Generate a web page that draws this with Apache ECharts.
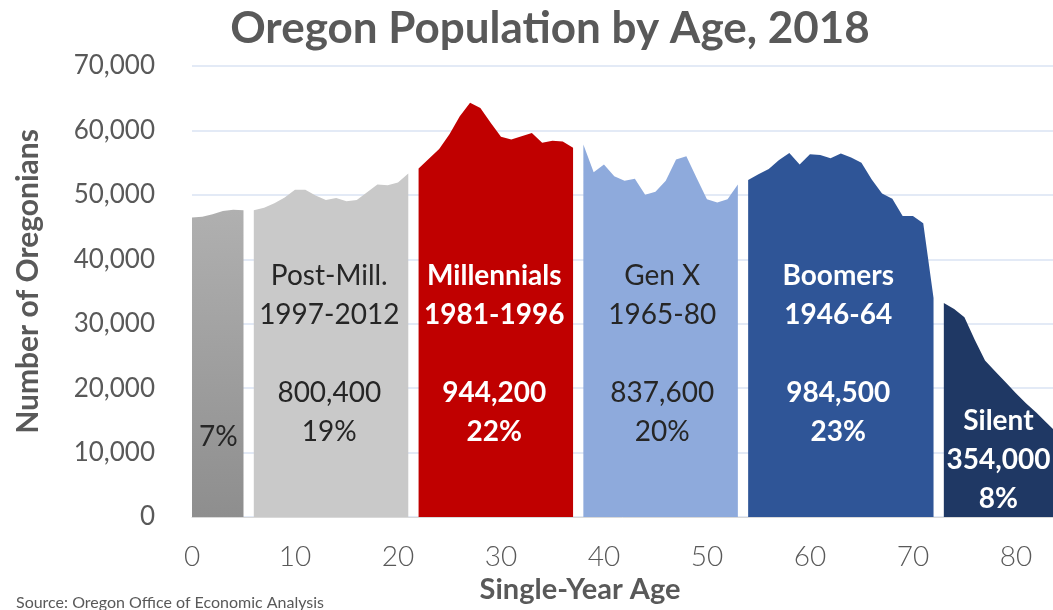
<!DOCTYPE html>
<html>
<head>
<meta charset="utf-8">
<script src="https://cdn.jsdelivr.net/npm/echarts@6/dist/echarts.min.js"></script>
<style>
    html, body { margin: 0; padding: 0; background: #fff; }
    #chart { width: 1053px; height: 610px; }
</style>
</head>
<body>
<div id="chart"></div>
<script>
// population by single year of age, one array per generation (first age + values)
var genAlphaStart = 0;
var genAlpha = [46500, 46600, 47000, 47500, 47700, 47600];
var postMillStart = 6;
var postMill = [47600, 48000, 48700, 49600, 50800, 50800, 49900, 49200, 49500, 49000, 49200, 50400, 51600, 51500, 51900, 53300];
var millStart = 22;
var millennials = [54100, 55600, 57100, 59400, 62200, 64300, 63500, 61200, 59000, 58600, 59100, 59600, 58100, 58400, 58300, 57300];
var genXStart = 38;
var genX = [57800, 53500, 54700, 52900, 52200, 52500, 50000, 50500, 52200, 55500, 56000, 52600, 49300, 48800, 49300, 51600];
var boomStart = 54;
var boomers = [52300, 53200, 54000, 55400, 56500, 54700, 56300, 56200, 55700, 56400, 55800, 55000, 52400, 50200, 49400, 46700, 46700, 45600, 34000];
var silentStart = 73;
var silent = [33200, 32300, 31000, 27500, 24300, 22600, 20900, 19200, 17600, 16200, 14600, 13000];

var ageTicks = [0, 10, 20, 30, 40, 50, 60, 70, 80];
var popTicks = [0, 10000, 20000, 30000, 40000, 50000, 60000, 70000];

var FONT = 'Lato';
var TXT = '#595959';

var toPairs = function (iStart, arrVals) {
    return arrVals.map(function (v, i) { return [iStart + i, v]; });
};

var areaSeries = function (strName, iStart, arrVals, color) {
    return {
        name: strName,
        type: 'line',
        data: toPairs(iStart, arrVals),
        symbol: 'none',
        lineStyle: { width: 0 },
        areaStyle: { color: color, opacity: 1 },
        silent: true,
        z: 2
    };
};

// text blocks sitting on the areas
var note = function (strText, x, y, bWhite) {
    return {
        value: [x, y],
        label: {
            formatter: strText,
            color: bWhite ? '#ffffff' : '#262626',
            fontWeight: bWhite ? 'bold' : 'normal'
        }
    };
};

var chart = echarts.init(document.getElementById('chart'));

var option = {
    animation: false,
    textStyle: { fontFamily: FONT },
    title: [
        {
            text: 'Oregon Population by Age, 2018',
            left: 545, top: 2, textAlign: 'center',
            textStyle: { fontFamily: FONT, fontSize: 44, fontWeight: 'bold', color: TXT }
        },
        {
            text: 'Single-Year Age',
            left: 575, top: 570, textAlign: 'center',
            textStyle: { fontFamily: FONT, fontSize: 29, fontWeight: 'bold', color: TXT }
        },
        {
            text: 'Source: Oregon Office of Economic Analysis',
            left: 11, top: 590,
            textStyle: { fontFamily: FONT, fontSize: 16, fontWeight: 'normal', color: TXT }
        }
    ],
    grid: { left: 192, top: 66, right: 0, bottom: 93 },
    xAxis: {
        type: 'value',
        min: 0, max: 83.6, interval: 10,
        axisLine: { show: true, lineStyle: { color: '#d9d9d9', width: 1 } },
        axisTick: { show: false },
        splitLine: { show: false },
        axisLabel: {
            margin: 26,
            fontFamily: FONT, fontWeight: 300, fontSize: 28, color: TXT,
            showMaxLabel: false,
            formatter: function (v) { return ageTicks.indexOf(v) >= 0 ? String(v) : ''; }
        }
    },
    yAxis: {
        type: 'value',
        min: popTicks[0], max: popTicks[popTicks.length - 1], interval: 10000,
        name: 'Number of Oregonians',
        nameLocation: 'middle',
        nameGap: 149,
        nameTextStyle: { fontFamily: FONT, fontSize: 30, fontWeight: 'bold', color: TXT, padding: [0, 0, 0, 20] },
        axisLine: { show: false },
        axisTick: { show: false },
        splitLine: { lineStyle: { color: '#dae3f3', width: 1.5 } },
        axisLabel: {
            margin: 37,
            fontFamily: FONT, fontSize: 26, color: TXT,
            formatter: function (v) { return v.toLocaleString('en-US'); }
        }
    },
    series: [
        areaSeries('Gen Alpha', genAlphaStart, genAlpha,
            new echarts.graphic.LinearGradient(0, 0, 0, 1, [
                { offset: 0, color: '#b0b0b0' },
                { offset: 1, color: '#8e8e8e' }
            ])),
        areaSeries('Post-Mill.', postMillStart, postMill, '#c9c9c9'),
        areaSeries('Millennials', millStart, millennials, '#c00000'),
        areaSeries('Gen X', genXStart, genX, '#8eaadc'),
        areaSeries('Boomers', boomStart, boomers, '#2f5597'),
        areaSeries('Silent', silentStart, silent, '#1f3864'),
        {
            type: 'scatter',
            symbolSize: 1,
            itemStyle: { color: 'transparent', opacity: 1 },
            silent: true,
            z: 5,
            label: {
                show: true,
                position: 'inside',
                align: 'center',
                verticalAlign: 'middle',
                fontFamily: FONT,
                fontSize: 28,
                lineHeight: 39
            },
            data: [
                note('7%', 2.55, 12400, false),
                note('Post-Mill.\n1997-2012\n\n800,400\n19%', 13.33, 25300, false),
                note('Millennials\n1981-1996\n\n944,200\n22%', 29.35, 25300, true),
                note('Gen X\n1965-80\n\n837,600\n20%', 45.66, 25300, false),
                note('Boomers\n1946-64\n\n984,500\n23%', 62.75, 25300, true),
                note('Silent\n354,000\n8%', 78.3, 8800, true)
            ]
        }
    ]
};

chart.setOption(option);
</script>
</body>
</html>
